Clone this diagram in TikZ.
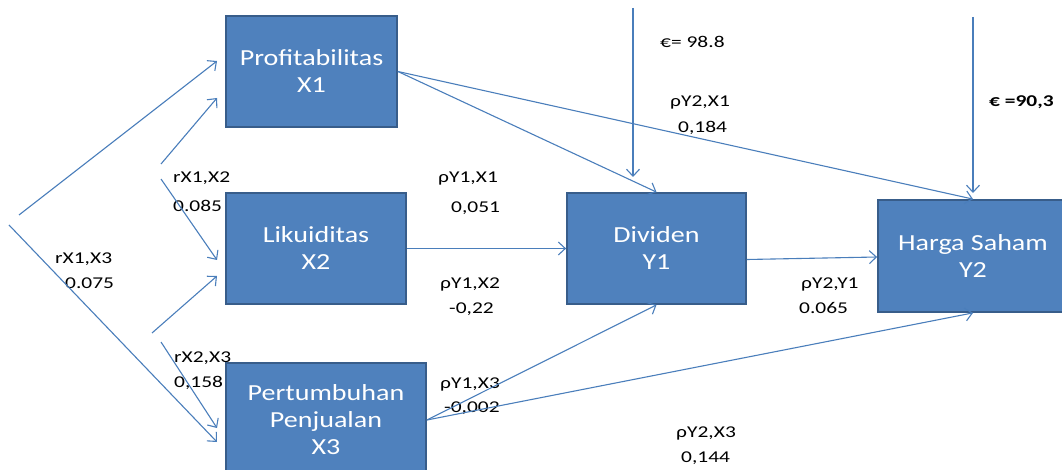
\documentclass[tikz,border=0pt]{standalone}
\usepackage{fontspec}
\setmainfont{Carlito}
\newfontfamily\boxfont[FakeStretch=1.22]{Carlito}
\newfontfamily\lblfont[FakeStretch=1.3]{Carlito}
\usetikzlibrary{arrows.meta,calc}
\definecolor{boxfill}{HTML}{4F81BD}
\definecolor{boxline}{HTML}{385D8A}
\definecolor{arrowc}{HTML}{4A7EBB}
\begin{document}
\begin{tikzpicture}[x=1pt,y=-1pt,
  var/.style={draw=boxline, fill=boxfill, line width=1.8pt, text=white,
    font=\boxfont\fontsize{23}{27}\selectfont, align=center, inner sep=0pt},
  conn/.style={draw=arrowc, line width=1.1pt, -{Straight Barb[length=7pt,width=13pt]}},
  lbl/.style={anchor=base west, inner sep=0pt, font=\lblfont\fontsize{16.5}{20}\selectfont},
]
\useasboundingbox (0,0) rectangle (1062,470);
\begin{scope}
\clip (0,0) rectangle (1062,470);
% boxes
\node[var, minimum width=171pt, minimum height=111pt] (prof) at (311.5,71.5) {Profitabilitas\\X1};
\node[var, minimum width=180pt, minimum height=111pt] (liq) at (316,248.5) {Likuiditas\\X2};
\node[var, minimum width=200pt, minimum height=114pt] (pp) at (326,420) {Pertumbuhan\\Penjualan\\X3};
\node[var, minimum width=179pt, minimum height=111pt] (div) at (656.5,248.5) {Dividen\\Y1};
\node[var, minimum width=190pt, minimum height=112pt] (hs) at (973,256) {Harga Saham\\Y2};
\end{scope}
% labels
\node[lbl] (l1a) at (173,183) {rX1,X2};
\node[lbl] (l1b) at (173,212) {0.085};
\node[lbl] (l2a) at (55,263) {rX1,X3};
\node[lbl] (l2b) at (65,288) {0.075};
\node[lbl] (l3a) at (174,362) {rX2,X3};
\node[lbl] (l3b) at (174,387) {0,158};
\node[lbl] (l4a) at (438,183) {ρY1,X1};
\node[lbl] (l4b) at (451,213) {0,051};
\node[lbl] (l5a) at (440,288) {ρY1,X2};
\node[lbl] (l5b) at (449,313) {-0,22};
\node[lbl] (l6a) at (440,388) {ρY1,X3};
\node[lbl] (l6b) at (444,412) {-0,002};
\node[lbl] (l7a) at (676,437) {ρY2,X3};
\node[lbl] (l7b) at (681,462) {0,144};
\node[lbl] (l8a) at (801,288) {ρY2,Y1};
\node[lbl] (l8b) at (799,313) {0.065};
\node[lbl] (l9a) at (670,107) {ρY2,X1};
\node[lbl] (l9b) at (678,133) {0,184};
\node[lbl] (e1) at (660,48) {€= 98.8};
\node[lbl, font=\lblfont\bfseries\fontsize{16.5}{20}\selectfont] (e2) at (989,107) {€ =90,3};
% free coordinates
\coordinate (a1s) at (19,215);  \coordinate (a1e) at (217,61);
\coordinate (a2s) at (9,225);   \coordinate (a2e) at (217,442);
\coordinate (a3s) at (161,164); \coordinate (a3e) at (217,98);
\coordinate (a4s) at (161,179); \coordinate (a4e) at (217,260);
\coordinate (a5s) at (152,333); \coordinate (a5e) at (217,276);
\coordinate (a6s) at (161,342); \coordinate (a6e) at (217,428);
\coordinate (r1s) at (633,8);   \coordinate (r1e) at (633,177);
\coordinate (r2s) at (973,17);  \coordinate (r2e) at (973,193);
% connectors
\draw[conn] (a1s) -- (a1e);
\draw[conn] (a2s) -- (a2e);
\draw[conn] (a3s) -- (a3e);
\draw[conn] (a4s) -- (a4e);
\draw[conn] (a5s) -- (a5e);
\draw[conn] (a6s) -- (a6e);
\draw[conn] (r1s) -- (r1e);
\draw[conn] (r2s) -- (r2e);
\draw[conn] (prof.east) -- (div.north);
\draw[conn] (prof.east) -- (hs.north);
\draw[conn] (liq.east) -- (div.west);
\draw[conn] ($(div.east)+(0,11)$) -- ($(hs.west)+(0,1)$);
\draw[conn] (pp.east) -- (div.south);
\draw[conn] (pp.east) -- (hs.south);
\end{tikzpicture}
\end{document}
